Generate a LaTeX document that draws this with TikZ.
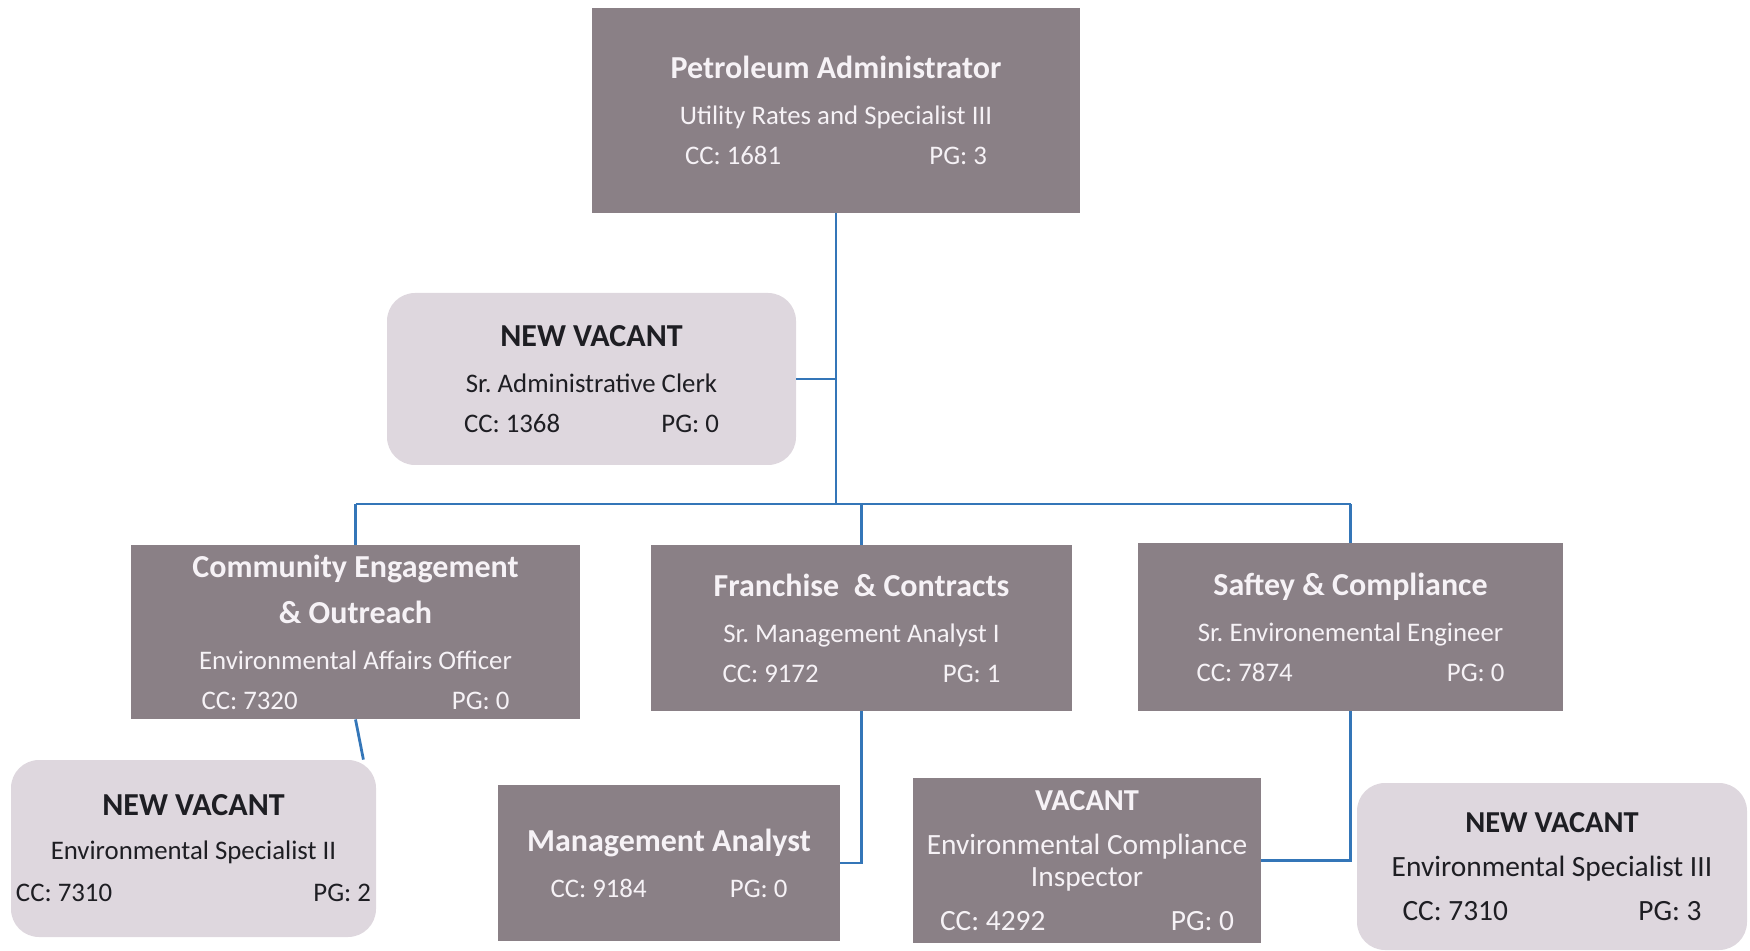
\documentclass[tikz,border=0pt]{standalone}
\usepackage{fontspec}
\setmainfont{Carlito}
\frenchspacing
\definecolor{darkbox}{RGB}{138,128,134}
\definecolor{lightbox}{RGB}{222,215,222}
\definecolor{darktext}{RGB}{246,242,246}
\definecolor{lighttext}{RGB}{30,30,35}
\definecolor{linkblue}{RGB}{52,118,184}
\newcommand{\ttl}[2][16]{{\fontsize{#1}{16}\selectfont\bfseries #2}}
\newcommand{\ccpg}[3]{\makebox[#1]{CC: #2\hfill PG: #3}}
\begin{document}
\begin{tikzpicture}[x=0.5pt,y=-0.5pt,
  box/.style={inner sep=0pt, align=center, font=\fontsize{13.4}{16}\selectfont},
  bigtext/.style={font=\fontsize{14.7}{16}\selectfont},
  dark/.style={box, fill=darkbox, text=darktext},
  light/.style={box, fill=lightbox, text=lighttext, rounded corners=14pt},
  link/.style={draw=linkblue, line width=1.4pt}]
\useasboundingbox (0,0) rectangle (1750,951);

\node[dark, minimum width=244pt, minimum height=102.5pt] (top) at (836,110.5)
  {\ttl{Petroleum Administrator}\\[7pt] Utility Rates and Specialist III\\[4pt] \ccpg{151pt}{1681}{3}};
\node[light, minimum width=204.5pt, minimum height=86pt] (clerk) at (591.5,379)
  {\ttl{NEW VACANT}\\[7pt] Sr. Administrative Clerk\\[4pt] \ccpg{127.5pt}{1368}{0}};
\node[dark, minimum width=224.5pt, minimum height=87pt] (comm) at (355.5,632)
  {\ttl{Community Engagement}\\[7pt] \ttl{\& Outreach}\\[7pt] Environmental Affairs Officer\\[4pt] \ccpg{154pt}{7320}{0}};
\node[dark, minimum width=210.5pt, minimum height=83pt] (fran) at (861.5,628)
  {\ttl{Franchise \ \& Contracts}\\[7pt] Sr. Management Analyst I\\[4pt] \ccpg{139pt}{9172}{1}};
\node[dark, minimum width=212.5pt, minimum height=84pt] (saf) at (1350.5,627)
  {\ttl{Saftey \& Compliance}\\[7pt] Sr. Environemental Engineer\\[4pt] \ccpg{154pt}{7874}{0}};
\node[light, minimum width=182.5pt, minimum height=88.5pt] (envII) at (193.5,848.5)
  {\ttl{NEW VACANT}\\[6pt] Environmental Specialist II\\[5pt] \ccpg{177.5pt}{7310}{2}};
\node[dark, minimum width=171pt, minimum height=78pt] (mgmt) at (669,863)
  {\ttl{Management Analyst}\\[7pt] \ccpg{118.5pt}{9184}{0}};
\node[dark, bigtext, minimum width=174pt, minimum height=82.5pt] (eci) at (1087,860.5)
  {\ttl[15.2]{VACANT}\\[6pt] Environmental Compliance\\[0pt] Inspector\\[6pt] \ccpg{147pt}{4292}{0}};
\node[light, bigtext, minimum width=195pt, minimum height=83.5pt] (envIII) at (1552,866.5)
  {\ttl[15.2]{NEW VACANT}\\[6pt] Environmental Specialist III\\[6pt] \ccpg{149.5pt}{7310}{3}};

\coordinate (bus) at (835,504);
\coordinate (busL) at (355.5,504);
\coordinate (busR) at (1350.5,504);
\draw[link] (top.south) -- (top.south |- bus);
\draw[link] (clerk.east) -- (clerk.east -| top.south);
\draw[link] (busL) -- (busR);
\draw[link] (busL) -- (comm.north);
\draw[link] (fran.north |- bus) -- (fran.north);
\draw[link] (busR) -- (saf.north);
\draw[link] (comm.south) -- ([xshift=-6.5pt]envII.north east);
\draw[link] (fran.south) |- (mgmt.east);
\draw[link] (saf.south) |- (eci.east);
\end{tikzpicture}
\end{document}
